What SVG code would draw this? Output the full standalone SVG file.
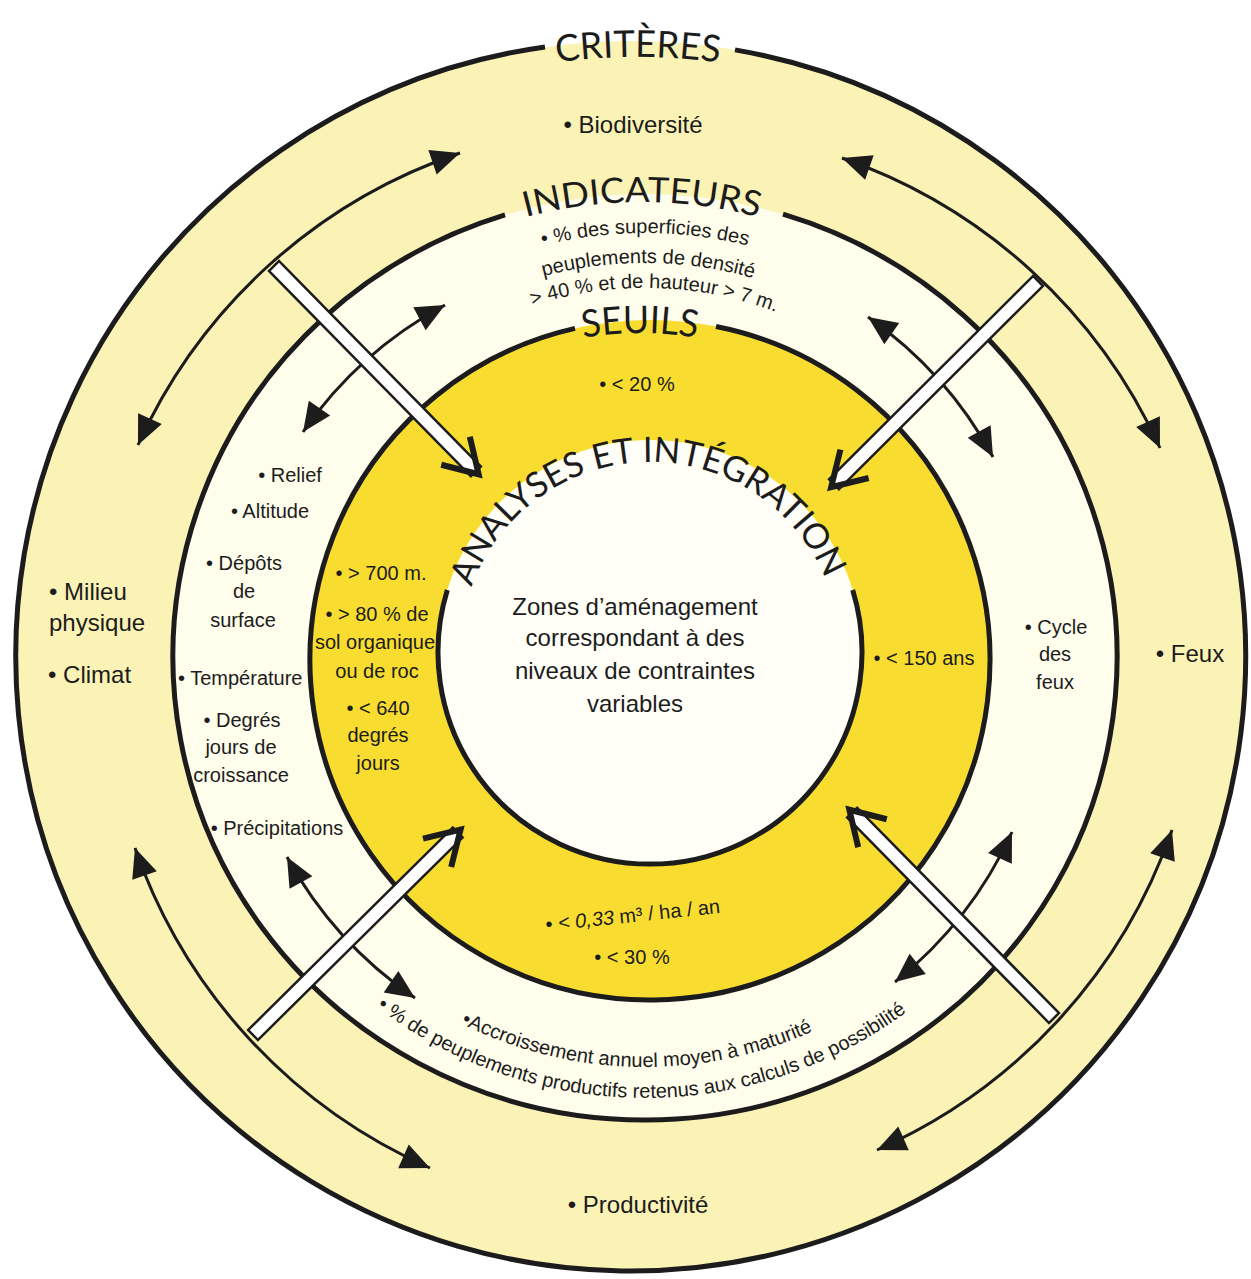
<svg xmlns="http://www.w3.org/2000/svg" width="1251" height="1279" viewBox="0 0 1251 1279">
<defs>
<style>
.ring{fill:none;stroke:#1c1c1c;stroke-width:5}
.t{font-family:"Liberation Sans",Arial,sans-serif;fill:#1c1c1c;font-size:20px}
.m{text-anchor:middle}
.t24{font-size:24px}
.big{font-family:Lato,"DejaVu Sans",sans-serif;font-weight:400;fill:#1c1c1c}
.arc{fill:none;stroke:#1c1c1c;stroke-width:3;marker-start:url(#ah);marker-end:url(#ah)}
.bar{fill:#ffffff;stroke:#1c1c1c;stroke-width:2.5}
.head{fill:none;stroke:#1c1c1c;stroke-width:6;stroke-linejoin:miter}
</style>
<marker id="ah" viewBox="-30 -15 32 30" markerWidth="32" markerHeight="30" refX="0" refY="0" orient="auto-start-reverse" markerUnits="userSpaceOnUse">
<path d="M0,0 L-29,-13 L-29,13 Z" fill="#1c1c1c"/>
</marker>
<g id="bararrow">
<rect x="0" y="-7" width="288" height="14" class="bar"/>
<path d="M259,-20 L292,0 L259,20" class="head"/>
</g>
<path id="p-crit" d="M433.1,93.1 A599,599 0 0 1 842.9,93.1"/>
<path id="p-ind" d="M414.5,263 A455,455 0 0 1 869.5,263"/>
<path id="p-seu" d="M476.5,376.8 A327,327 0 0 1 803.5,376.8"/>
<path id="p-ana" d="M471.5,587 A190,190 0 0 1 826.2,580.8"/>
<path id="p-i1" d="M401.8,309.7 A424,424 0 0 1 888.2,309.7"/>
<path id="p-i2" d="M419,334.2 A394,394 0 0 1 871,334.2"/>
<path id="p-i3" d="M433.3,354.7 A369,369 0 0 1 856.7,354.7"/>
<path id="p-b1" d="M355.1,946.9 A410,410 0 0 0 934.9,946.9"/>
<path id="p-b2" d="M333.2,968.8 A441,441 0 0 0 956.8,968.8"/>
</defs>

<rect width="1251" height="1279" fill="#ffffff"/>

<g id="ring-criteres">
<circle cx="631" cy="656" r="615" fill="#FBF2B5"/>
</g>
<g id="ring-indicateurs">
<ellipse cx="645" cy="657" rx="472" ry="463" fill="#FFFDEC"/>
</g>
<g id="ring-seuils">
<circle cx="650" cy="660" r="340" fill="#F8DD30"/>
</g>
<g id="zone-centre">
<circle cx="650" cy="652" r="212" fill="#FFFEF7"/>
</g>

<g id="ring-lines">
<path class="ring" d="M735,49.9 A615,615 0 1 1 545,47"/>
<path class="ring" d="M783,214.2 A472,463 0 1 1 505,214.8"/>
<path class="ring" d="M716,326.5 A340,340 0 1 1 575,328.4"/>
<path class="ring" d="M852.7,590 A212,212 0 1 1 447.3,590"/>
</g>

<g id="titles">
<text class="big" font-size="37"><textPath href="#p-crit" startOffset="50%" text-anchor="middle" textLength="163" lengthAdjust="spacingAndGlyphs">CRITÈRES</textPath></text>
<text class="big" font-size="35"><textPath href="#p-ind" startOffset="50%" text-anchor="middle" textLength="235" lengthAdjust="spacingAndGlyphs">INDICATEURS</textPath></text>
<text class="big" font-size="38"><textPath href="#p-seu" startOffset="50%" text-anchor="middle" textLength="114" lengthAdjust="spacingAndGlyphs">SEUILS</textPath></text>
<text class="big" font-size="35"><textPath href="#p-ana" startOffset="0" textLength="455" lengthAdjust="spacingAndGlyphs">ANALYSES ET INTÉGRATION</textPath></text>
</g>

<g id="connectors">
<path class="arc" d="M138,445 A545,545 0 0 1 460,153"/>
<path class="arc" d="M842,158 A545,545 0 0 1 1160,448"/>
<path class="arc" d="M1172,830 A545,545 0 0 1 877,1150"/>
<path class="arc" d="M430,1168 A545,545 0 0 1 135,848"/>
<path class="arc" d="M303,432 A408,408 0 0 1 445,305"/>
<path class="arc" d="M868,317 A408,408 0 0 1 993,457"/>
<path class="arc" d="M1012,832 A408,408 0 0 1 895,982"/>
<path class="arc" d="M415,998 A408,408 0 0 1 287,857"/>
<use href="#bararrow" transform="translate(274,266) rotate(45.5)"/>
<use href="#bararrow" transform="translate(1038,281) rotate(135.1)"/>
<use href="#bararrow" transform="translate(253,1035) rotate(-44.7)"/>
<use href="#bararrow" transform="translate(1054,1018) rotate(-134.5)"/>
</g>

<g id="criteres-labels">
<text class="t t24 m" x="633" y="133">• Biodiversité</text>
<text class="t t24" x="49" y="600">• Milieu</text>
<text class="t t24" x="49" y="631">physique</text>
<text class="t t24" x="48" y="683">• Climat</text>
<text class="t t24 m" x="1190" y="662">• Feux</text>
<text class="t t24 m" x="638" y="1213">• Productivité</text>
</g>

<g id="indicateurs-labels">
<text class="t"><textPath href="#p-i1" startOffset="259" text-anchor="middle">• % des superficies des</textPath></text>
<text class="t"><textPath href="#p-i2" startOffset="244" text-anchor="middle">peuplements de densité</textPath></text>
<text class="t"><textPath href="#p-i3" startOffset="235" text-anchor="middle">&gt; 40 % et de hauteur &gt; 7 m.</textPath></text>
<text class="t m" x="290" y="482">• Relief</text>
<text class="t m" x="270" y="518">• Altitude</text>
<text class="t m" x="244" y="570">• Dépôts</text>
<text class="t m" x="244" y="598">de</text>
<text class="t m" x="243" y="627">surface</text>
<text class="t" x="178" y="685">• Température</text>
<text class="t m" x="242" y="727">• Degrés</text>
<text class="t m" x="241" y="754">jours de</text>
<text class="t m" x="241" y="782">croissance</text>
<text class="t m" x="277" y="835">• Précipitations</text>
<text class="t m" x="1056" y="634">• Cycle</text>
<text class="t m" x="1055" y="661">des</text>
<text class="t m" x="1055" y="689">feux</text>
<text class="t"><textPath href="#p-b1" startOffset="313" text-anchor="middle">•Accroissement annuel moyen à maturité</textPath></text>
<text class="t"><textPath href="#p-b2" startOffset="342" text-anchor="middle">• % de peuplements productifs retenus aux calculs de possibilité</textPath></text>
</g>

<g id="seuils-labels">
<text class="t m" x="637" y="391">• &lt; 20 %</text>
<text class="t m" x="381" y="580">• &gt; 700 m.</text>
<text class="t m" x="377" y="621">• &gt; 80 % de</text>
<text class="t m" x="375" y="649">sol organique</text>
<text class="t m" x="377" y="678">ou de roc</text>
<text class="t m" x="378" y="715">• &lt; 640</text>
<text class="t m" x="378" y="742">degrés</text>
<text class="t m" x="378" y="770">jours</text>
<text class="t m" x="924" y="665">• &lt; 150 ans</text>
<text class="t m" x="633" y="922" transform="rotate(-6 633 918)">• <tspan font-style="italic">&lt; 0,33</tspan> m³ / ha / an</text>
<text class="t m" x="632" y="964">• &lt; 30 %</text>
</g>

<g id="centre-labels">
<text class="t t24 m" x="635" y="615">Zones d’aménagement</text>
<text class="t t24 m" x="635" y="646">correspondant à des</text>
<text class="t t24 m" x="635" y="679">niveaux de contraintes</text>
<text class="t t24 m" x="635" y="712">variables</text>
</g>
</svg>
